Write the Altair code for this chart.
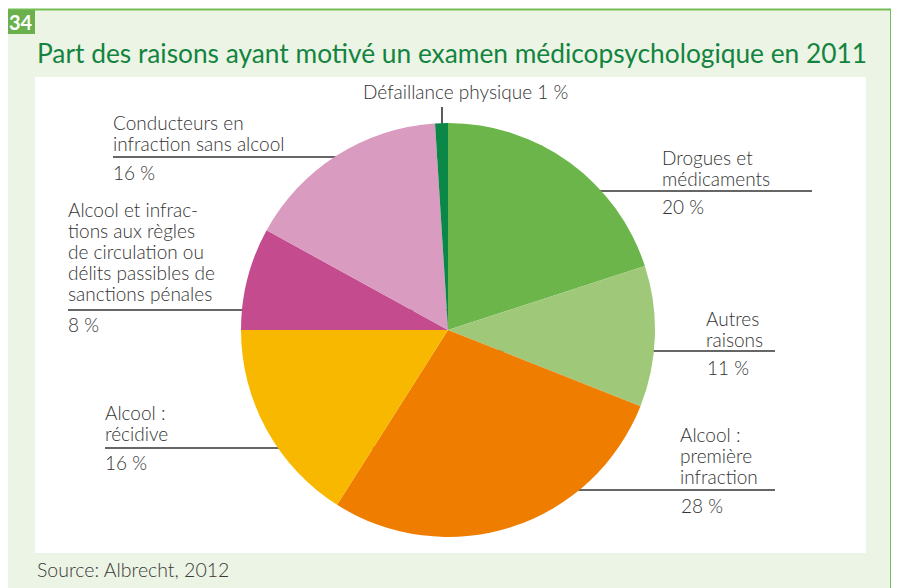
import altair as alt
import pandas as pd

# ---------------- data ----------------
categories = [
    "Drogues et médicaments",
    "Autres raisons",
    "Alcool : première infraction",
    "Alcool : récidive",
    "Alcool et infractions aux règles de circulation ou délits passibles de sanctions pénales",
    "Conducteurs en infraction sans alcool",
    "Défaillance physique",
]
shares = [20, 11, 28, 16, 8, 16, 1]
label_lines = [
    ["Drogues et", "médicaments"],
    ["Autres", "raisons"],
    ["Alcool :", "première", "infraction"],
    ["Alcool :", "récidive"],
    ["Alcool et infrac-", "tions aux règles", "de circulation ou", "délits passibles de", "sanctions pénales"],
    ["Conducteurs en", "infraction sans alcool"],
    ["Défaillance physique 1 %"],
]
pct_labels = ["20 %", "11 %", "28 %", "16 %", "8 %", "16 %", ""]
colors = ["#6cb54a", "#9fc879", "#ee7d00", "#f8b800", "#c34b8e", "#d99bc0", "#0b8847"]
title_text = "Part des raisons ayant motivé un examen médicopsychologique en 2011"
source_text = "Source: Albrecht, 2012"
badge_text = "34"

# ---------------- layout (page pixels) ----------------
W, H = 883, 580
CX, CY, R = 448, 330, 207
LAYOUT = {
    "label_x": [662, 706, 680, 105, 68, 113, 363],
    "label_y": [165, 326, 442, 420, 217, 130, 99],
    "pct_x": [662, 707, 681, 105, 68, 113, 0],
    "pct_y": [214, 375, 513, 470, 332, 180, 0],
    "rule_x": [CX, CX, CX, 105, 68, 113, 442],
    "rule_x2": [812, 775, 775, CX, CX, CX, 442],
    "rule_y": [191, 351, 490, 448, 310, 157, 107],
    "rule_y2": [191, 351, 490, 448, 310, 157, 135],
}

xs = alt.Scale(domain=[8, 8 + W], nice=False, zero=False)
ys = alt.Scale(domain=[8, 8 + H], nice=False, zero=False, reverse=True)
FONT = "Lato"
TXT = "#333333"
LBL_SIZE = 19

# frame
frames = pd.DataFrame({
    "x": [7, 35, 6],
    "x2": [891, 866, 35],
    "y": [9.5, 77, 10],
    "y2": [620, 553, 34],
    "kind": ["outer", "panel", "badge"],
})
outer = alt.Chart(frames[frames.kind == "outer"]).mark_rect(
    fill="#ecf4e5", stroke="#74bd52", strokeWidth=2
).encode(x=alt.X("x:Q", scale=xs, axis=None), x2="x2", y=alt.Y("y:Q", scale=ys, axis=None), y2="y2")
panel = alt.Chart(frames[frames.kind == "panel"]).mark_rect(fill="white").encode(
    x=alt.X("x:Q", scale=xs, axis=None), x2="x2", y=alt.Y("y:Q", scale=ys, axis=None), y2="y2")
badge = alt.Chart(frames[frames.kind == "badge"]).mark_rect(fill="#6ab04c").encode(
    x=alt.X("x:Q", scale=xs, axis=None), x2="x2", y=alt.Y("y:Q", scale=ys, axis=None), y2="y2")

badge_lbl = alt.Chart(pd.DataFrame({"x": [20.5], "y": [30], "t": [badge_text]})).mark_text(
    font=FONT, fontSize=20, fontWeight="bold", color="white", align="center", baseline="alphabetic"
).encode(x=alt.X("x:Q", scale=xs, axis=None), y=alt.Y("y:Q", scale=ys, axis=None), text="t:N")

title = alt.Chart(pd.DataFrame({"x": [37], "y": [63], "t": [title_text]})).mark_text(
    font=FONT, fontSize=26.3, fontWeight="normal", color="#13843f", align="left", baseline="alphabetic"
).encode(x=alt.X("x:Q", scale=xs, axis=None), y=alt.Y("y:Q", scale=ys, axis=None), text="t:N")

source = alt.Chart(pd.DataFrame({"x": [37], "y": [577], "t": [source_text]})).mark_text(
    font=FONT, fontSize=19.5, color="#3a3a3a", align="left", baseline="alphabetic", fontWeight=300
).encode(x=alt.X("x:Q", scale=xs, axis=None), y=alt.Y("y:Q", scale=ys, axis=None), text="t:N")

rules_df = pd.DataFrame({
    "x": LAYOUT["rule_x"], "x2": LAYOUT["rule_x2"],
    "y": LAYOUT["rule_y"], "y2": LAYOUT["rule_y2"],
})
rules = alt.Chart(rules_df).mark_rule(color="#333333", strokeWidth=1.6).encode(
    x=alt.X("x:Q", scale=xs, axis=None), x2="x2", y=alt.Y("y:Q", scale=ys, axis=None), y2="y2")

pie_df = pd.DataFrame({"cat": categories, "share": shares, "idx": list(range(len(categories)))})
pie = alt.Chart(pie_df).mark_arc(radius=R).encode(
    theta=alt.Theta("share:Q", stack=True),
    color=alt.Color("cat:N", scale=alt.Scale(domain=categories, range=colors), legend=None),
    order=alt.Order("idx:Q"),
    x=alt.value(CX - 8),
    y=alt.value(CY - 8),
)

labels_df = pd.DataFrame({
    "x": LAYOUT["label_x"], "y": LAYOUT["label_y"],
    "t": ["\n".join(l) for l in label_lines],
})
labels = alt.Chart(labels_df).mark_text(
    font=FONT, fontSize=LBL_SIZE, fontWeight=300, color=TXT, align="left", baseline="alphabetic",
    lineBreak="\n", lineHeight=21
).encode(x=alt.X("x:Q", scale=xs, axis=None), y=alt.Y("y:Q", scale=ys, axis=None), text="t:N")

pct_df = pd.DataFrame({"x": LAYOUT["pct_x"], "y": LAYOUT["pct_y"], "t": pct_labels})
pct_df = pct_df[pct_df.t != ""]
pcts = alt.Chart(pct_df).mark_text(
    font=FONT, fontSize=LBL_SIZE, fontWeight=300, color=TXT, align="left", baseline="alphabetic"
).encode(x=alt.X("x:Q", scale=xs, axis=None), y=alt.Y("y:Q", scale=ys, axis=None), text="t:N")

chart = alt.layer(outer, panel, badge, badge_lbl, title, source, rules, pie, labels, pcts).properties(
    width=W, height=H, autosize=alt.AutoSizeParams(type="none"), padding=0, background="white"
).configure_view(stroke=None)

chart.save("out.html", embed_options={"renderer": "svg", "actions": False})
